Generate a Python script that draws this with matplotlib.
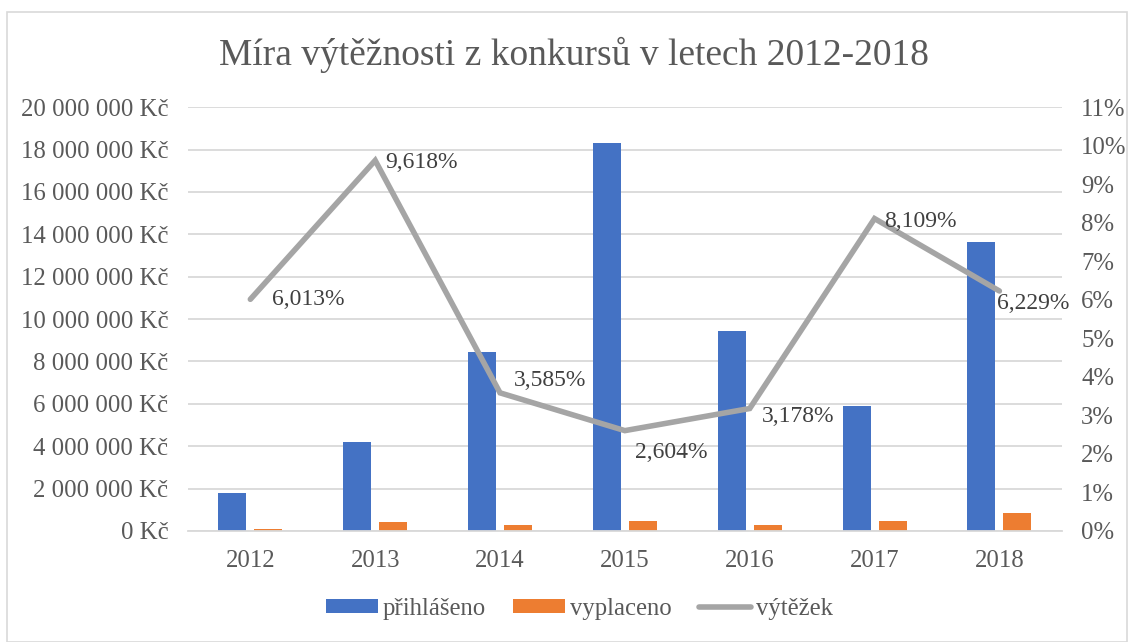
import numpy as np
import matplotlib.pyplot as plt
from matplotlib.patches import Rectangle
from matplotlib.ticker import FuncFormatter, MultipleLocator

plt.rcParams['font.family'] = ['Liberation Serif', 'DejaVu Serif']

years = ['2012', '2013', '2014', '2015', '2016', '2017', '2018']
prihlaseno = [1795000, 4200000, 8440000, 18330000, 9430000, 5900000, 13650000]
vyplaceno = [108000, 404000, 303000, 477000, 300000, 478000, 850000]
vytezek = [6.013, 9.618, 3.585, 2.604, 3.178, 8.109, 6.229]

# label offsets in pixels (dx, dy) relative to each line point
label_offsets = [(22, 0), (10, -2), (14, 12), (10, -22), (12, -8), (10, -3), (-2, -13)]

text_col = '#595959'
grid_col = '#D9D9D9'

fig = plt.figure(figsize=(11.32, 6.42), dpi=100)
fig.patches.append(Rectangle((0.006, 0.0), 0.99, 0.982, transform=fig.transFigure,
                             fill=False, edgecolor=grid_col, linewidth=1.2))
ax = fig.add_axes([0.166, 0.173, 0.772, 0.660])
ax2 = ax.twinx()

x = np.arange(len(years))
w = 0.224
b1 = ax.bar(x - 0.144, prihlaseno, width=w, color='#4472C4', label='přihlášeno', zorder=2)
b2 = ax.bar(x + 0.144, vyplaceno, width=w, color='#ED7D31', label='vyplaceno', zorder=2)
l1, = ax2.plot(x, vytezek, color='#A5A5A5', linewidth=4, label='výtěžek',
               solid_capstyle='round', solid_joinstyle='miter')

for xi, v, (dx, dy) in zip(x, vytezek, label_offsets):
    ax2.annotate(f'{v:.3f}%'.replace('.', ','), (xi, v), xytext=(dx, dy),
                 textcoords='offset pixels', ha='left', va='center',
                 fontsize=17, color='#404040')

ax.set_xlim(-0.5, len(years) - 0.5)
ax.set_ylim(0, 20000000)
ax.yaxis.set_major_locator(MultipleLocator(2000000))
ax.yaxis.set_major_formatter(FuncFormatter(
    lambda v, p: f'{int(v):,} Kč'.replace(',', ' ')))
ax2.set_ylim(0, 11)
ax2.yaxis.set_major_locator(MultipleLocator(1))
ax2.yaxis.set_major_formatter(FuncFormatter(lambda v, p: f'{int(round(v))}%'))

ax.set_xticks(x)
ax.set_xticklabels(years)
ax.grid(axis='y', color=grid_col, linewidth=1.3, zorder=0)
ax.set_axisbelow(True)
for a in (ax, ax2):
    for s in a.spines.values():
        s.set_visible(False)
    a.tick_params(length=0, labelsize=17.8, labelcolor=text_col)
ax.tick_params(axis='x', pad=14)
ax.tick_params(axis='y', pad=14)
ax2.tick_params(axis='y', pad=14)
ax.spines['bottom'].set_visible(True)
ax.spines['bottom'].set_color(grid_col)
ax.spines['bottom'].set_linewidth(1.3)

fig.text(0.507, 0.915, 'Míra výtěžnosti z konkursů v letech 2012-2018',
         ha='center', va='center', fontsize=27, color=text_col)

fig.legend(handles=[b1, b2, l1], loc='center', bbox_to_anchor=(0.512, 0.052),
           ncol=3, frameon=False, fontsize=17.8, labelcolor=text_col,
           handlelength=2.1, handleheight=0.5, handletextpad=0.2, columnspacing=1.1)

fig.savefig('out.png', dpi=100)
